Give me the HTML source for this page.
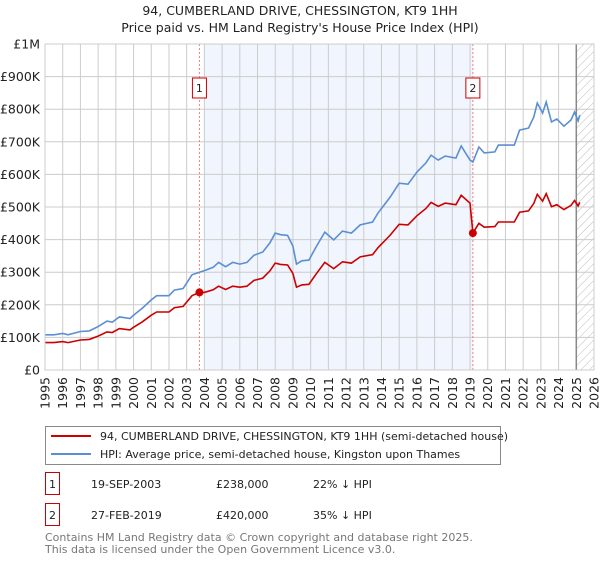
<!DOCTYPE html>
<html><head><meta charset="utf-8"><style>
body{margin:0;background:#fff;font-family:"Liberation Sans","DejaVu Sans",sans-serif;}
svg text{font-family:"DejaVu Sans","Liberation Sans",sans-serif;}
</style></head><body>
<svg width="600" height="560" viewBox="0 0 600 560" xmlns="http://www.w3.org/2000/svg">
<defs><pattern id="hatch" width="6" height="6" patternUnits="userSpaceOnUse" patternTransform="rotate(45)"><line x1="0" y1="0" x2="0" y2="6" stroke="#bbb" stroke-width="1"/></pattern></defs>
<text x="300" y="15" text-anchor="middle" font-size="12.5" fill="#222">94, CUMBERLAND DRIVE, CHESSINGTON, KT9 1HH</text>
<text x="300" y="32" text-anchor="middle" font-size="12.5" fill="#222">Price paid vs. HM Land Registry's House Price Index (HPI)</text>
<g id="plot"></g>
<g>
<rect x="45.5" y="426.5" width="455" height="38" fill="#fff" stroke="#888"/>
<line x1="51" y1="436" x2="91" y2="436" stroke="#cc0000" stroke-width="2"/>
<text x="100" y="440" font-size="11" fill="#222">94, CUMBERLAND DRIVE, CHESSINGTON, KT9 1HH (semi-detached house)</text>
<line x1="51" y1="454" x2="91" y2="454" stroke="#5b8fd4" stroke-width="2"/>
<text x="100" y="458" font-size="11" fill="#222">HPI: Average price, semi-detached house, Kingston upon Thames</text>
</g>
<g font-size="11" fill="#222">
<rect x="45.5" y="472.5" width="14" height="22" fill="#fff" stroke="#cc0000"/>
<text x="52.5" y="488" text-anchor="middle">1</text>
<text x="91" y="488">19-SEP-2003</text><text x="216" y="488">£238,000</text><text x="313" y="488">22% ↓ HPI</text>
<rect x="45.5" y="503.5" width="14" height="22" fill="#fff" stroke="#cc0000"/>
<text x="52.5" y="519" text-anchor="middle">2</text>
<text x="91" y="519">27-FEB-2019</text><text x="216" y="519">£420,000</text><text x="313" y="519">35% ↓ HPI</text>
</g>
<text x="45" y="541" font-size="11" fill="#777">Contains HM Land Registry data © Crown copyright and database right 2025.</text>
<text x="45" y="553" font-size="11" fill="#777">This data is licensed under the Open Government Licence v3.0.</text>
</svg>
<script>
const dates=[1995.0,1995.5,1996.0,1996.3,1997.0,1997.5,1998.0,1998.5,1998.8,1999.2,1999.8,2000.0,2000.5,2001.0,2001.3,2002.0,2002.3,2002.8,2003.3,2003.72,2004.0,2004.5,2004.8,2005.2,2005.6,2006.0,2006.4,2006.8,2007.3,2007.7,2008.0,2008.3,2008.7,2009.0,2009.2,2009.5,2009.9,2010.3,2010.8,2011.3,2011.8,2012.3,2012.8,2013.5,2013.8,2014.5,2015.0,2015.5,2016.0,2016.5,2016.8,2017.2,2017.6,2018.2,2018.5,2019.0,2019.16,2019.5,2019.8,2020.4,2020.6,2021.5,2021.8,2022.3,2022.6,2022.8,2023.1,2023.3,2023.6,2023.9,2024.3,2024.7,2024.9,2025.1,2025.2];
const hpiValues=[108,108,112,108,118,120,133,150,147,163,158,168,190,215,228,228,245,250,292,300,305,315,330,317,330,325,330,352,362,390,420,415,413,380,325,335,337,377,423,399,426,420,445,454,481,531,573,570,607,635,659,644,656,650,687,644,638,684,666,669,690,690,736,742,776,819,788,822,761,770,748,767,791,764,782];
const priceValues=[84,84,87,84,92,94,104,117,115,127,123,131,148,168,178,178,191,195,228,238,238,246,257,247,257,254,257,275,282,304,328,324,322,296,254,261,263,294,330,311,332,328,347,354,375,414,447,445,473,495,514,502,512,507,536,512,420,450,438,440,454,454,484,488,511,539,518,541,501,507,492,505,520,503,514];
const saleDates=[2003.72,2019.16];
const saleValues=[238,420];
const saleLabels=["1","2"];
const yTicks=[0,100,200,300,400,500,600,700,800,900,1000];
const yTickLabels=["£0","£100K","£200K","£300K","£400K","£500K","£600K","£700K","£800K","£900K","£1M"];
const xYears=[1995,1996,1997,1998,1999,2000,2001,2002,2003,2004,2005,2006,2007,2008,2009,2010,2011,2012,2013,2014,2015,2016,2017,2018,2019,2020,2021,2022,2023,2024,2025,2026];
const X0=45,X1=594,Y0=370,Y1=44;
const xs=d=>X0+(d-1995)/(2026-1995)*(X1-X0);
const ys=v=>Y0-v/1000*(Y0-Y1);
const NS="http://www.w3.org/2000/svg";
const g=document.getElementById('plot');
function mk(t,a,p){const e=document.createElementNS(NS,t);for(const k in a)e.setAttribute(k,a[k]);(p||g).appendChild(e);return e;}
let e;
e=mk('rect',{x:xs(2004),y:Y1,width:xs(saleDates[1])-xs(2004),height:Y0-Y1,fill:'#eef3fc',opacity:0.8});


e=mk('rect',{x:xs(2025),y:Y1,width:X1-xs(2025),height:Y0-Y1,fill:'url(#hatch)'});


yTicks.forEach((v,i)=>{
 e=mk('line',{x1:X0,x2:X1,y1:ys(v),y2:ys(v),stroke:'#ccc'});
 
 
 e=mk('text',{x:X0-5,y:ys(v)+4.5,'text-anchor':'end','font-size':'12.5',fill:'#222'});
 e.textContent=yTickLabels[i];
 
 
});
xYears.forEach(yr=>{
 const x=xs(yr);
 e=mk('line',{x1:x,x2:x,y1:Y1,y2:Y0,stroke:'#ccc'});
 
 
 e=mk('text',{x:0,y:0,transform:`translate(${x+4.5},377) rotate(-90)`,'text-anchor':'end','font-size':'12.5',fill:'#222'});
 e.textContent=yr;
 
 
});
e=mk('line',{x1:xs(2025),x2:xs(2025),y1:Y1,y2:Y0,stroke:'#888','stroke-width':1.5});


saleDates.forEach((d,i)=>{
 e=mk('line',{x1:xs(d),x2:xs(d),y1:Y1,y2:Y0,stroke:'#f08080','stroke-dasharray':'2,2'});
 
 
 e=mk('rect',{x:xs(d)-7,y:78,width:14,height:20,fill:'#fff',stroke:'#cc0000'});
 
 
 e=mk('text',{x:xs(d),y:92,'text-anchor':'middle','font-size':'11',fill:'#222'});
 e.textContent=saleLabels[i];
 
 
});
const pts=a=>a.map((v,i)=>xs(dates[i]).toFixed(1)+','+ys(v).toFixed(1)).join(' ');
e=mk('polyline',{points:pts(hpiValues),fill:'none',stroke:'#5b8fd4','stroke-width':1.6});


e=mk('polyline',{points:pts(priceValues),fill:'none',stroke:'#cc0000','stroke-width':1.6});


saleDates.forEach((d,i)=>{
 e=mk('circle',{cx:xs(d),cy:ys(saleValues[i]),r:4,fill:'#cc0000'});
 
 
});
e=mk('rect',{x:X0,y:Y1,width:X1-X0,height:Y0-Y1,fill:'none',stroke:'#ccc'});


</script>
</body></html>
